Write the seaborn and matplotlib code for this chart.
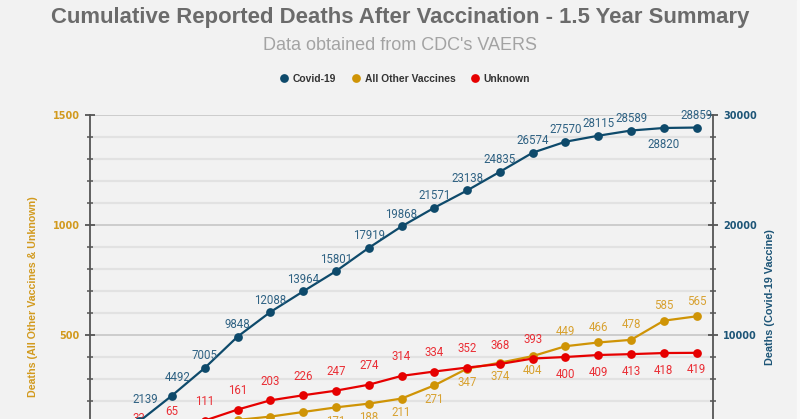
import numpy as np
import pandas as pd
import matplotlib
matplotlib.use("Agg")
import matplotlib.pyplot as plt
import seaborn as sns
from matplotlib.lines import Line2D
from matplotlib.patches import Rectangle
from matplotlib.ticker import MultipleLocator

# data (month index 0..18, cumulative counts)
months = list(range(19))
covid = [0, 2139, 4492, 7005, 9848, 12088, 13964, 15801, 17919, 19868,
         21571, 23138, 24835, 26574, 27570, 28115, 28589, 28820, 28859]
other = [0, 35, 62, 90, 114, 129, 150, 171, 188, 211,
         271, 347, 374, 404, 449, 466, 478, 565, 585]
other_text = ["0", "35", "62", "90", "114", "129", "150", "171", "188", "211",
              "271", "347", "374", "404", "449", "466", "478", "585", "565"]
unknown = [0, 33, 65, 111, 161, 203, 226, 247, 274, 314,
           334, 352, 368, 393, 400, 409, 413, 418, 419]

df = pd.DataFrame({"month": months, "covid": covid, "other": other, "unknown": unknown})

BG = "#f2f2f2"
C_COVID = "#0e4a6b"
C_OTHER = "#cf9406"
C_UNK = "#e60000"
T_COVID = "#2f6283"
T_OTHER = "#d8a232"
T_UNK = "#ea2f36"

sns.set_style("white")
plt.rcParams["font.family"] = ["Liberation Sans", "DejaVu Sans"]

fig = plt.figure(figsize=(8, 4.19), dpi=100, facecolor=BG)
fig.patches.append(Rectangle((797 / 800, 0), 3 / 800, 1, transform=fig.transFigure,
                             color="#f9f9f9", zorder=0))
ax = fig.add_axes([90 / 800, 1 - 445 / 419, 623 / 800, 330 / 419])
ax.set_facecolor(BG)
ax2 = ax.twinx()

# grid
ax.set_ylim(0, 1500)
ax.set_xlim(-0.5, 18.5)
ax.yaxis.set_major_locator(MultipleLocator(500))
ax.yaxis.set_minor_locator(MultipleLocator(100))
ax.grid(axis="y", which="minor", color="#e2e2e2", lw=1.6)
ax.grid(axis="y", which="major", color="#cccccc", lw=1.4)
ax.set_axisbelow(True)

sns.lineplot(data=df, x="month", y="other", ax=ax, color=C_OTHER, lw=1.6,
             marker="o", markersize=6.3, markeredgewidth=0)
sns.lineplot(data=df, x="month", y="unknown", ax=ax, color=C_UNK, lw=1.6,
             marker="o", markersize=6.3, markeredgewidth=0)

ax2.set_ylim(0, 30000)
ax2.yaxis.set_major_locator(MultipleLocator(10000))
ax2.yaxis.set_minor_locator(MultipleLocator(2000))
sns.lineplot(data=df, x="month", y="covid", ax=ax2, color=C_COVID, lw=1.6,
             marker="o", markersize=6.3, markeredgewidth=0)

# data labels (first month sits below the visible area)
lab_font = dict(family="Roboto", fontsize=8.3, ha="center", va="center")
for i, m in enumerate(months):
    if i == 0:
        continue
    dx, dy = 0, 12
    if i == 1:
        dx, dy = 6, 22
    elif i == 2:
        dx, dy = 6, 18
    elif i == 17:
        dy = -17
    ax2.annotate(str(covid[i]), (m, covid[i]), xytext=(dx, dy), textcoords="offset pixels",
                 color=T_COVID, **lab_font)
    dy = 19 if i <= 13 else -17
    ax.annotate(str(unknown[i]), (m, unknown[i]), xytext=(0, dy), textcoords="offset pixels",
                color=T_UNK, **lab_font)
    dy = -14 if i <= 13 else 15
    ax.annotate(other_text[i], (m, other[i]), xytext=(0, dy), textcoords="offset pixels",
                color=T_OTHER, **lab_font)

# axes styling
for a in (ax, ax2):
    for s in a.spines.values():
        s.set_visible(False)
    a.set_xlabel("")
    a.set_ylabel("")
    a.set_xticks([])
ax.spines["left"].set_visible(True)
ax.spines["left"].set_color("#555555")
ax.spines["left"].set_linewidth(1.3)
ax2.spines["right"].set_visible(True)
ax2.spines["right"].set_color("#555555")
ax2.spines["right"].set_linewidth(1.3)

ax.tick_params(axis="y", which="major", direction="inout", length=7, width=1.3,
               color="#555555", labelsize=7, labelcolor="#d29a1e", pad=4)
ax.tick_params(axis="y", which="minor", direction="inout", length=4, width=1.1, color="#555555")
ax2.tick_params(axis="y", which="major", direction="inout", length=7, width=1.3,
                color="#555555", labelsize=7, labelcolor="#1d5577", pad=4)
ax2.tick_params(axis="y", which="minor", direction="inout", length=4, width=1.1, color="#555555")
for t in ax.get_yticklabels() + ax2.get_yticklabels():
    t.set_fontfamily("DejaVu Sans")
    t.set_fontweight("bold")

# titles
fig.text(0.5, 1 - 17 / 419, "Cumulative Reported Deaths After Vaccination - 1.5 Year Summary",
         ha="center", va="center", fontsize=15.9, fontweight="bold", color="#6b6b6b",
         family=["Liberation Sans Narrow", "Liberation Sans"])
fig.text(0.5, 1 - 45 / 419, "Data obtained from CDC's VAERS", ha="center", va="center",
         fontsize=13, color="#a3a3a3")

fig.text(33 / 800, 1 - 297 / 419, "Deaths (All Other Vaccines & Unknown)", rotation=90,
         ha="center", va="center", fontsize=7.7, fontweight="bold", color="#d29a1e")
fig.text(770 / 800, 1 - 297 / 419, "Deaths (Covid-19 Vaccine)", rotation=90,
         ha="center", va="center", fontsize=7.8, fontweight="bold", color="#1d5577")

# legend
handles = [Line2D([], [], ls="none", marker="o", markersize=6.3, color=c, markeredgewidth=0)
           for c in (C_COVID, C_OTHER, C_UNK)]
leg = fig.legend(handles, ["Covid-19", "All Other Vaccines", "Unknown"], loc="center",
                 bbox_to_anchor=(0.505, 1 - 79 / 419), ncol=3, frameon=False,
                 handletextpad=0.25, columnspacing=1.3, handlelength=1.2,
                 prop=dict(family=["Liberation Sans Narrow", "Liberation Sans"],
                           weight="bold", size=7.4))
for t in leg.get_texts():
    t.set_color("#333333")

fig.savefig("out.png", dpi=100, facecolor=BG)
